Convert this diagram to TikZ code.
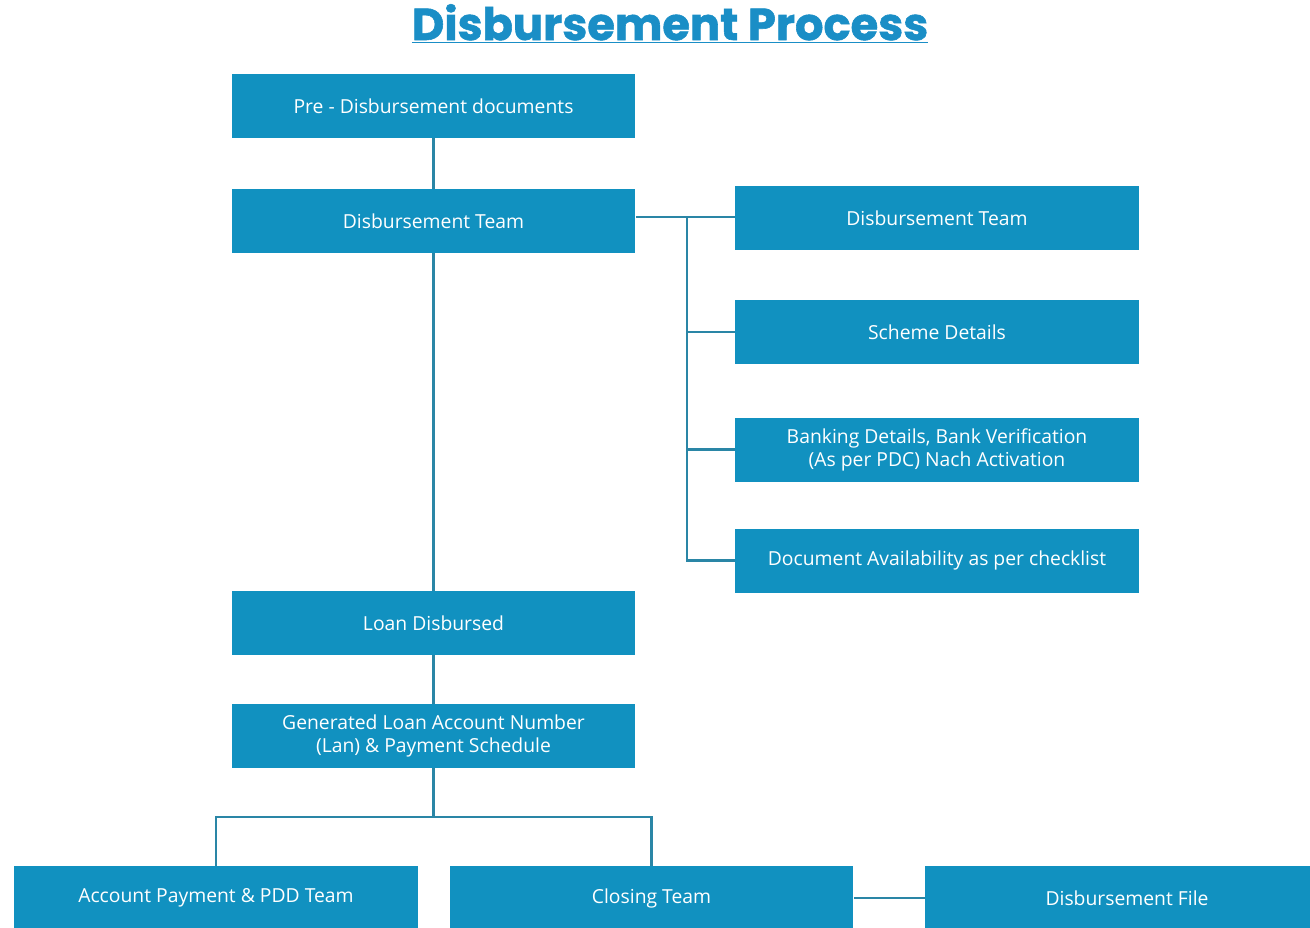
\documentclass[tikz,border=0pt]{standalone}
\usepackage{fontspec}
\setmainfont{Open Sans}
\newfontfamily\titlefont{Poppins}[BoldFeatures={FakeBold=1.3}]
\usetikzlibrary{positioning}
\definecolor{boxblue}{RGB}{17,145,192}
\definecolor{lineblue}{RGB}{42,134,166}
\definecolor{titleblue}{RGB}{26,142,198}

\begin{document}
\begin{tikzpicture}[x=0.02cm,y=-0.02cm,
  box/.style={fill=boxblue,text=white,minimum width=8.08cm,minimum height=1.28cm,
    inner sep=0pt,align=center,font=\fontsize{11}{13}\selectfont},
  link/.style={draw=lineblue,line width=1.5pt}]
\useasboundingbox (0,0) rectangle (1310,927);
\node[font=\titlefont\bfseries\fontsize{25.5}{30}\selectfont,text=titleblue] (title) at (670,24) {\underline{Disbursement Process}};
\node[box] (pre) at (433.5,106) {Pre - Disbursement documents};
\node[box] (team) at (433.5,221) {Disbursement Team};
\node[box] (teamr) at (937,218) {Disbursement Team};
\node[box] (scheme) at (937,332) {Scheme Details};
\node[box] (bank) at (937,449.5) {Banking Details, Bank Verification\\(As per PDC) Nach Activation};
\node[box] (check) at (937,560.5) {Document Availability as per checklist};
\node[box] (loan) at (433.5,623) {Loan Disbursed};
\node[box] (lan) at (433.5,736) {Generated Loan Account Number\\(Lan) \& Payment Schedule};
\node[box] (pdd) at (216,898) {Account Payment \& PDD Team};
\node[box] (closing) at (651.5,898) {Closing Team};
\node[box] (file) at (1127,898) {Disbursement File};
\coordinate (bus) at (687,217);
\coordinate (fork) at (433.5,817);
\draw[link] (pre) -- (team);
\draw[link] (team.east |- bus) -- (teamr.west |- bus);
\draw[link] (bus) |- (check);
\draw[link] (bus |- scheme) -- (scheme);
\draw[link] (bus |- bank) -- (bank);
\draw[link] (team) -- (loan);
\draw[link] (loan) -- (lan);
\draw[link] (lan) -- (fork);
\draw[link] (pdd) |- (fork) -| (closing);
\draw[link] (closing) -- (file);
\end{tikzpicture}
\end{document}
